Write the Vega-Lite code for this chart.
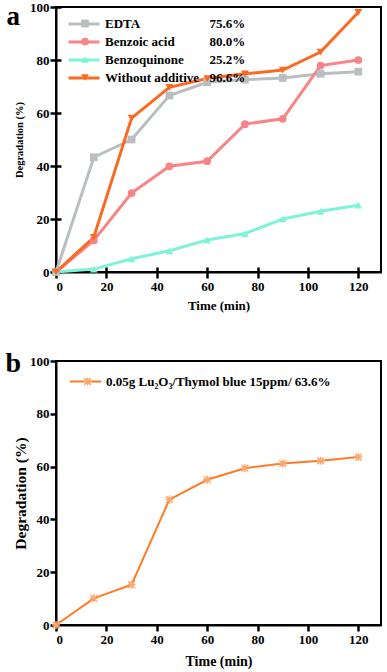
{
  "$schema": "https://vega.github.io/schema/vega-lite/v6.json",
  "padding": {"left": 4, "top": 0, "right": 0, "bottom": 0},
  "background": "white",
  "bounds": "flush",
  "spacing": 89,
  "config": {
    "view": {"stroke": "black", "strokeWidth": 2},
    "axis": {"grid": false},
    "legend": {"padding": 0}
  },
  "datasets": {
    "a": [
      {"time": 0, "deg": 0, "series": "EDTA"},
      {"time": 15, "deg": 43.3, "series": "EDTA"},
      {"time": 30, "deg": 50, "series": "EDTA"},
      {"time": 45, "deg": 66.6, "series": "EDTA"},
      {"time": 60, "deg": 71.6, "series": "EDTA"},
      {"time": 75, "deg": 72.6, "series": "EDTA"},
      {"time": 90, "deg": 73.2, "series": "EDTA"},
      {"time": 105, "deg": 74.8, "series": "EDTA"},
      {"time": 120, "deg": 75.6, "series": "EDTA"},
      {"time": 0, "deg": 0, "series": "Benzoic acid"},
      {"time": 15, "deg": 11.9, "series": "Benzoic acid"},
      {"time": 30, "deg": 29.8, "series": "Benzoic acid"},
      {"time": 45, "deg": 39.9, "series": "Benzoic acid"},
      {"time": 60, "deg": 41.8, "series": "Benzoic acid"},
      {"time": 75, "deg": 55.8, "series": "Benzoic acid"},
      {"time": 90, "deg": 57.8, "series": "Benzoic acid"},
      {"time": 105, "deg": 77.9, "series": "Benzoic acid"},
      {"time": 120, "deg": 80.0, "series": "Benzoic acid"},
      {"time": 0, "deg": 0, "series": "Benzoquinone"},
      {"time": 15, "deg": 1.1, "series": "Benzoquinone"},
      {"time": 30, "deg": 5.0, "series": "Benzoquinone"},
      {"time": 45, "deg": 8.0, "series": "Benzoquinone"},
      {"time": 60, "deg": 12.1, "series": "Benzoquinone"},
      {"time": 75, "deg": 14.5, "series": "Benzoquinone"},
      {"time": 90, "deg": 20.0, "series": "Benzoquinone"},
      {"time": 105, "deg": 22.9, "series": "Benzoquinone"},
      {"time": 120, "deg": 25.2, "series": "Benzoquinone"},
      {"time": 0, "deg": 0, "series": "Without additive"},
      {"time": 15, "deg": 13.1, "series": "Without additive"},
      {"time": 30, "deg": 58.1, "series": "Without additive"},
      {"time": 45, "deg": 69.7, "series": "Without additive"},
      {"time": 60, "deg": 73.0, "series": "Without additive"},
      {"time": 75, "deg": 74.8, "series": "Without additive"},
      {"time": 90, "deg": 76.2, "series": "Without additive"},
      {"time": 105, "deg": 83.0, "series": "Without additive"},
      {"time": 120, "deg": 98.0, "series": "Without additive"}
    ],
    "b": [
      {"time": 0, "deg": 0, "series": "Lu2O3"},
      {"time": 15, "deg": 10.1, "series": "Lu2O3"},
      {"time": 30, "deg": 15.3, "series": "Lu2O3"},
      {"time": 45, "deg": 47.5, "series": "Lu2O3"},
      {"time": 60, "deg": 55.0, "series": "Lu2O3"},
      {"time": 75, "deg": 59.4, "series": "Lu2O3"},
      {"time": 90, "deg": 61.2, "series": "Lu2O3"},
      {"time": 105, "deg": 62.2, "series": "Lu2O3"},
      {"time": 120, "deg": 63.6, "series": "Lu2O3"}
    ]
  },
  "vconcat": [
    {
      "width": 325,
      "height": 265,
      "title": {"text": "a", "anchor": "start", "frame": "bounds", "font": "Liberation Serif", "fontWeight": "bold", "fontSize": 27, "color": "black", "offset": -22, "dx": -8, "dy": 29, "baseline": "alphabetic"},
      "data": {"name": "a"},
      "layer": [
        {
          "mark": {"type": "line", "strokeWidth": 3},
          "encoding": {
            "x": {"field": "time", "type": "quantitative", "scale": {"domain": [0, 129], "nice": false},
              "axis": {"orient": "bottom", "values": [0, 20, 40, 60, 80, 100, 120], "tickSize": 6, "tickWidth": 2.5, "tickColor": "black", "domainColor": "black", "domainWidth": 2, "labelFont": "Liberation Serif", "labelFontWeight": "bold", "labelFontSize": 13, "labelColor": "black", "labelPadding": 2, "title": "Time (min)", "titleFont": "Liberation Serif", "titleFontWeight": "bold", "titleFontSize": 13, "titleColor": "black", "titlePadding": 6}},
            "y": {"field": "deg", "type": "quantitative", "scale": {"domain": [0, 100], "nice": false},
              "axis": {"orient": "left", "values": [0, 20, 40, 60, 80, 100], "tickSize": 6, "tickWidth": 2.5, "tickColor": "black", "domainColor": "black", "domainWidth": 2, "labelFont": "Liberation Serif", "labelFontWeight": "bold", "labelFontSize": 13, "labelColor": "black", "labelPadding": 1, "title": "Degradation (%)", "titleFont": "Liberation Serif", "titleFontWeight": "bold", "titleFontSize": 10.5, "titleColor": "black", "titlePadding": 5}},
            "color": {"field": "series", "type": "nominal",
              "scale": {"domain": ["EDTA", "Benzoic acid", "Benzoquinone", "Without additive"], "range": ["#b9bfc1", "#f78486", "#7ef3d8", "#fb6a22"]},
              "legend": {"orient": "none", "legendX": 21, "legendY": 10, "title": null, "symbolType": "M-3,0H3", "symbolSize": 107, "symbolStrokeWidth": 3, "labelFont": "Liberation Serif", "labelFontWeight": "bold", "labelFontSize": 13, "labelColor": "black", "labelOffset": 14, "rowPadding": 4, "labelLimit": 300}}
          }
        },
        {
          "mark": {"type": "point", "filled": true, "opacity": 1, "size": 60},
          "encoding": {
            "x": {"field": "time", "type": "quantitative", "axis": {"orient": "bottom", "values": [0, 20, 40, 60, 80, 100, 120], "tickSize": -5, "tickWidth": 2.5, "tickColor": "black", "labels": false, "domain": false, "title": null}},
            "y": {"field": "deg", "type": "quantitative", "axis": {"orient": "left", "values": [0, 20, 40, 60, 80, 100], "tickSize": -5, "tickWidth": 2.5, "tickColor": "black", "labels": false, "domain": false, "title": null}},
            "color": {"field": "series", "type": "nominal",
              "scale": {"domain": ["EDTA", "Benzoic acid", "Benzoquinone", "Without additive"], "range": ["#b9bfc1", "#f78486", "#7ef3d8", "#fb6a22"]},
              "legend": {"orient": "none", "legendX": 22.5, "legendY": 10, "title": null, "symbolSize": 60, "labelFont": "Liberation Serif", "labelFontWeight": "bold", "labelFontSize": 13, "labelColor": "black", "labelOffset": 118, "rowPadding": 4,
                "labelExpr": "datum.label == 'EDTA' ? '75.6%' : datum.label == 'Benzoic acid' ? '80.0%' : datum.label == 'Benzoquinone' ? '25.2%' : '96.6%'"}},
            "shape": {"field": "series", "type": "nominal",
              "scale": {"domain": ["EDTA", "Benzoic acid", "Benzoquinone", "Without additive"], "range": ["square", "circle", "triangle-up", "triangle-down"]},
              "legend": {"orient": "none", "legendX": 22.5, "legendY": 10, "title": null, "symbolSize": 60, "labelFont": "Liberation Serif", "labelFontWeight": "bold", "labelFontSize": 13, "labelColor": "black", "labelOffset": 118, "rowPadding": 4,
                "labelExpr": "datum.label == 'EDTA' ? '75.6%' : datum.label == 'Benzoic acid' ? '80.0%' : datum.label == 'Benzoquinone' ? '25.2%' : '96.6%'"}}
          }
        }
      ],
      "resolve": {"scale": {"color": "independent", "shape": "independent"}, "legend": {"color": "independent", "shape": "independent"}, "axis": {"x": "independent", "y": "independent"}}
    },
    {
      "width": 325,
      "height": 264,
      "title": {"text": "b", "anchor": "start", "frame": "bounds", "font": "Liberation Serif", "fontWeight": "bold", "fontSize": 28, "color": "black", "offset": -22, "dx": -8, "dy": 23, "baseline": "alphabetic"},
      "data": {"name": "b"},
      "layer": [
        {
          "mark": {"type": "line", "strokeWidth": 2},
          "encoding": {
            "x": {"field": "time", "type": "quantitative", "scale": {"domain": [0, 129], "nice": false},
              "axis": {"orient": "bottom", "values": [0, 20, 40, 60, 80, 100, 120], "tickSize": 6, "tickWidth": 2.5, "tickColor": "black", "domainColor": "black", "domainWidth": 2, "labelFont": "Liberation Serif", "labelFontWeight": "bold", "labelFontSize": 13, "labelColor": "black", "labelPadding": 2, "title": "Time (min)", "titleFont": "Liberation Serif", "titleFontWeight": "bold", "titleFontSize": 14, "titleColor": "black", "titlePadding": 8}},
            "y": {"field": "deg", "type": "quantitative", "scale": {"domain": [0, 100], "nice": false},
              "axis": {"orient": "left", "values": [0, 20, 40, 60, 80, 100], "tickSize": 6, "tickWidth": 2.5, "tickColor": "black", "domainColor": "black", "domainWidth": 2, "labelFont": "Liberation Serif", "labelFontWeight": "bold", "labelFontSize": 13, "labelColor": "black", "labelPadding": 1, "title": "Degradation (%)", "titleFont": "Liberation Serif", "titleFontWeight": "bold", "titleFontSize": 15.5, "titleColor": "black", "titlePadding": 1}},
            "color": {"field": "series", "type": "nominal",
              "scale": {"domain": ["Lu2O3"], "range": ["#ff7a26"]},
              "legend": {"orient": "none", "legendX": 23, "legendY": 14, "title": null, "symbolType": "M-3,0H3", "symbolSize": 110, "symbolStrokeWidth": 2, "labelFont": "Liberation Serif", "labelFontWeight": "bold", "labelFontSize": 13, "labelColor": "black", "labelOffset": 14, "labelLimit": 400,
                "labelExpr": "'0.05g Lu₂O₃/Thymol blue 15ppm/ 63.6%'"}}
          }
        },
        {
          "mark": {"type": "point", "filled": false, "opacity": 1, "size": 45, "strokeWidth": 1.5, "shape": "M-1,-1L1,1M-1,1L1,-1M0,-1.2V1.2M-1.2,0H1.2"},
          "encoding": {
            "x": {"field": "time", "type": "quantitative", "axis": null},
            "y": {"field": "deg", "type": "quantitative", "axis": null},
            "color": {"field": "series", "type": "nominal",
              "scale": {"domain": ["Lu2O3"], "range": ["#fba870"]},
              "legend": {"orient": "none", "legendX": 25, "legendY": 14, "title": null, "symbolType": "M-1,-1L1,1M-1,1L1,-1M0,-1.2V1.2M-1.2,0H1.2", "symbolSize": 45, "symbolStrokeWidth": 1.5, "labelFontSize": 13, "labelExpr": "''"}}
          }
        }
      ],
      "resolve": {"scale": {"color": "independent"}, "axis": {"x": "independent", "y": "independent"}}
    }
  ]
}
